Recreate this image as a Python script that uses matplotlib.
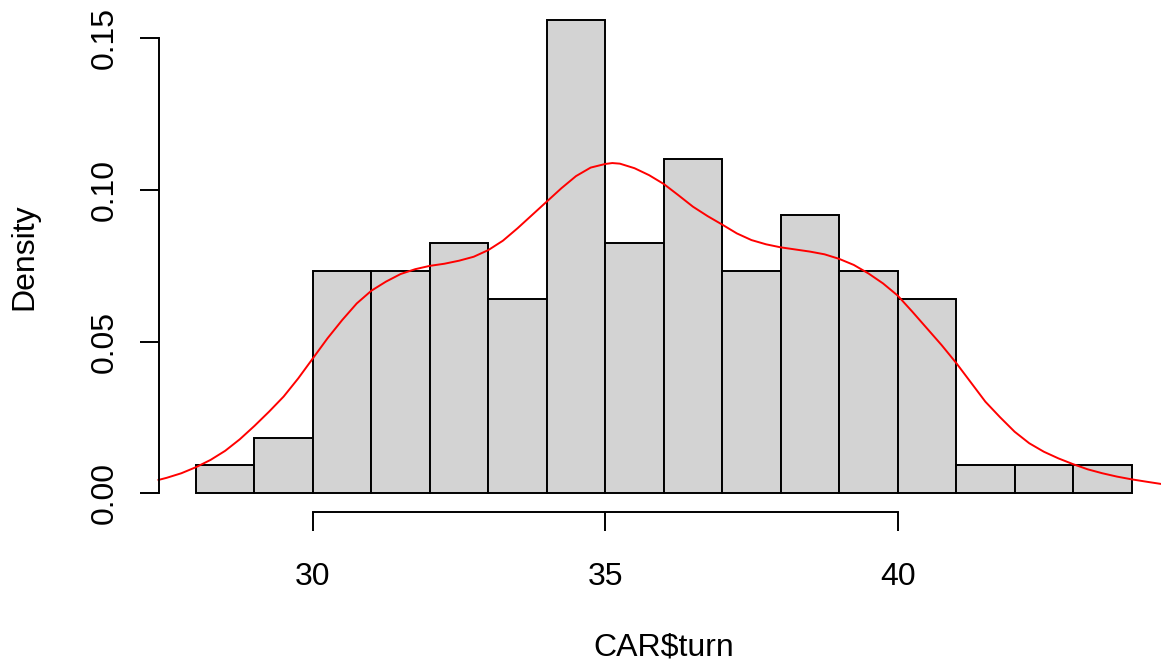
#!/usr/bin/env python3
"""Histogram of CAR$turn with density curve, R base-graphics look."""

import matplotlib
matplotlib.use("Agg")
import matplotlib.pyplot as plt

# histogram bins (width 1) and densities (counts / 109)
bin_edges = [28, 29, 30, 31, 32, 33, 34, 35, 36, 37, 38, 39, 40, 41, 42, 43, 44]
bin_density = [0.0092, 0.0183, 0.0734, 0.0734, 0.0826, 0.0642, 0.1560, 0.0826,
               0.1101, 0.0734, 0.0917, 0.0734, 0.0642, 0.0092, 0.0092, 0.0092]

# density curve
curve_x = [27.36, 27.5, 27.75, 28.0, 28.25, 28.5, 28.75, 29.0, 29.25, 29.5,
           29.75, 30.0, 30.25, 30.5, 30.75, 31.0, 31.25, 31.5, 31.75, 32.0,
           32.25, 32.5, 32.75, 33.0, 33.25, 33.5, 33.75, 34.0, 34.25, 34.5,
           34.75, 35.0, 35.12, 35.25, 35.5, 35.75, 36.0, 36.25, 36.5, 36.75,
           37.0, 37.25, 37.5, 37.75, 38.0, 38.25, 38.5, 38.75, 39.0, 39.25,
           39.5, 39.75, 40.0, 40.25, 40.5, 40.75, 41.0, 41.25, 41.5, 41.75,
           42.0, 42.25, 42.5, 42.75, 43.0, 43.25, 43.5, 43.75, 44.0, 44.26,
           44.53, 44.64]
curve_y = [0.0044, 0.0051, 0.0066, 0.0086, 0.0110, 0.0140, 0.0178, 0.0222, 0.0269, 0.0319,
           0.0379, 0.0445, 0.0511, 0.0571, 0.0626, 0.0668, 0.0698, 0.0723, 0.0739, 0.0750,
           0.0757, 0.0767, 0.0780, 0.0802, 0.0833, 0.0874, 0.0918, 0.0962, 0.1006, 0.1046,
           0.1074, 0.1086, 0.1089, 0.1087, 0.1072, 0.1049, 0.1020, 0.0983, 0.0945, 0.0914,
           0.0886, 0.0857, 0.0835, 0.0821, 0.0811, 0.0804, 0.0797, 0.0788, 0.0773, 0.0753,
           0.0725, 0.0692, 0.0652, 0.0599, 0.0544, 0.0489, 0.0430, 0.0366, 0.0302, 0.0251,
           0.0203, 0.0165, 0.0137, 0.0115, 0.0096, 0.0079, 0.0066, 0.0055, 0.0046, 0.0038,
           0.0030, 0.0028]

x_ticks = [30, 35, 40]
y_ticks = [0.00, 0.05, 0.10, 0.15]
y_tick_labels = ["0.00", "0.05", "0.10", "0.15"]

plt.rcParams["font.family"] = ["Liberation Sans", "DejaVu Sans"]

fig = plt.figure(figsize=(11.61, 6.65), dpi=100)
ax = fig.add_axes([158.5 / 1161, (665 - 512.2) / 665,
                   (1169 - 158.5) / 1161, (512.2 - 1.3) / 665])

widths = [b - a for a, b in zip(bin_edges[:-1], bin_edges[1:])]
ax.bar(bin_edges[:-1], bin_density, width=widths, align="edge",
       color="#D3D3D3", edgecolor="black", linewidth=1.4)
ax.plot(curve_x, curve_y, color="red", linewidth=1.4, clip_on=False,
        solid_joinstyle="round")

# R uses 4% padding around the data range
ax.set_xlim(27.36, 44.64)
ax.set_ylim(-0.00624, 0.16224)

for side in ("top", "right"):
    ax.spines[side].set_visible(False)
ax.spines["bottom"].set_bounds(30, 40)
ax.spines["left"].set_bounds(0, 0.15)
ax.spines["bottom"].set_linewidth(1.4)
ax.spines["left"].set_linewidth(1.4)

ax.set_xticks(x_ticks)
ax.set_xticklabels([str(t) for t in x_ticks])
ax.set_yticks(y_ticks)
ax.set_yticklabels(y_tick_labels, rotation=90, va="center")
ax.tick_params(axis="both", direction="out", length=14, width=1.4,
               labelsize=23)
ax.tick_params(axis="x", pad=22)
ax.tick_params(axis="y", pad=14)

ax.set_xlabel("CAR\\$turn", fontsize=23, labelpad=29)
ax.set_ylabel("Density", fontsize=23, labelpad=36)

fig.savefig("out.png", dpi=100)
